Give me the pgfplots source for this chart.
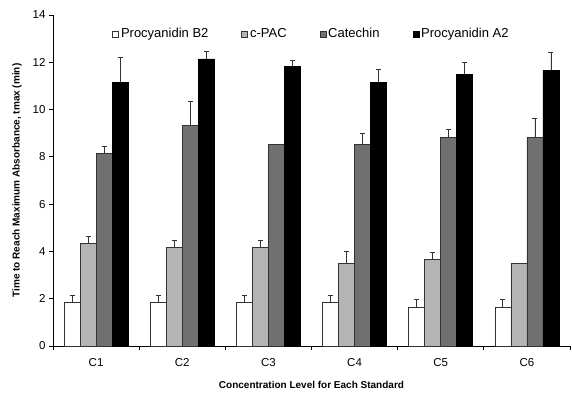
\documentclass[border=0pt]{standalone}
\usepackage{pgfplots}
\pgfplotsset{compat=1.18}
\usepackage{fontspec}
\setmainfont{Liberation Sans}
\definecolor{lgrey}{HTML}{B4B4B4}
\definecolor{dgrey}{HTML}{707070}
\begin{document}
\begin{tikzpicture}[x=1pt,y=1pt]
\path[use as bounding box] (-53pt,-46pt) rectangle (519pt,346pt);
\begin{axis}[
  width=517pt, height=331pt, scale only axis,
  ybar=0pt, bar width=0.186,
  xmin=-0.5, xmax=5.5, ymin=0, ymax=14,
  axis x line*=bottom, axis y line*=left,
  xtick={0,1,2,3,4,5},
  xticklabels={C1,C2,C3,C4,C5,C6},
  major x tick style={draw=none},
  minor xtick={-0.5,0.5,1.5,2.5,3.5,4.5,5.5},
  ytick={0,2,...,14},
  tick align=outside,
  major tick length=4pt, minor tick length=4pt,
  tick style={black, line width=0.8pt},
  axis line style={line width=0.9pt},
  /pgf/number format/assume math mode=true,
  ticklabel style={font=\fontsize{11.5}{13}\selectfont},
  xticklabel style={yshift=-5pt},
  ylabel={\textbf{Time to Reach Maximum Absorbance, tmax (min)}},
  xlabel={\textbf{Concentration Level for Each Standard}},
  label style={font=\fontsize{11.5}{13}\selectfont},
  every axis x label/.style={at={(axis description cs:0.5,0)}, yshift=-39pt, anchor=center},
  every axis y label/.style={at={(axis description cs:0,0.5)}, xshift=-36pt, rotate=90, anchor=center},
  legend style={at={(0.5,0.966)}, anchor=north, draw=none, fill=none,
    legend columns=4, font=\fontsize{13}{15}\selectfont,
    /tikz/every even column/.append style={column sep=31pt},
    inner sep=0pt},
  legend image code/.code={\draw[#1, line width=0.6pt] (0pt,-3pt) rectangle (6pt,3pt);},
  every axis plot/.append style={line width=0.7pt},
  error bars/y dir=plus, error bars/y explicit,
  error bars/error bar style={line width=0.8pt, black!80},
  error bars/error mark options={rotate=90, mark size=2.5pt, line width=0.8pt, black!80},
]
\addplot[draw=black!80, fill=white] coordinates {
 (0,1.85) +- (0,0.30) (1,1.85) +- (0,0.30) (2,1.85) +- (0,0.30)
 (3,1.84) +- (0,0.28) (4,1.65) +- (0,0.33) (5,1.65) +- (0,0.33)};
\addplot[draw=black!80, fill=lgrey] coordinates {
 (0,4.35) +- (0,0.30) (1,4.17) +- (0,0.31) (2,4.17) +- (0,0.31)
 (3,3.49) +- (0,0.50) (4,3.65) +- (0,0.31) (5,3.49) +- (0,0)};
\addplot[draw=black!80, fill=dgrey] coordinates {
 (0,8.16) +- (0,0.30) (1,9.33) +- (0,1.03) (2,8.52) +- (0,0)
 (3,8.52) +- (0,0.46) (4,8.84) +- (0,0.31) (5,8.84) +- (0,0.78)};
\addplot[draw=black, fill=black] coordinates {
 (0,11.15) +- (0,1.05) (1,12.14) +- (0,0.31) (2,11.82) +- (0,0.28)
 (3,11.16) +- (0,0.56) (4,11.50) +- (0,0.50) (5,11.66) +- (0,0.77)};
\legend{Procyanidin B2, c-PAC, Catechin, Procyanidin A2}
\end{axis}
\end{tikzpicture}
\end{document}
